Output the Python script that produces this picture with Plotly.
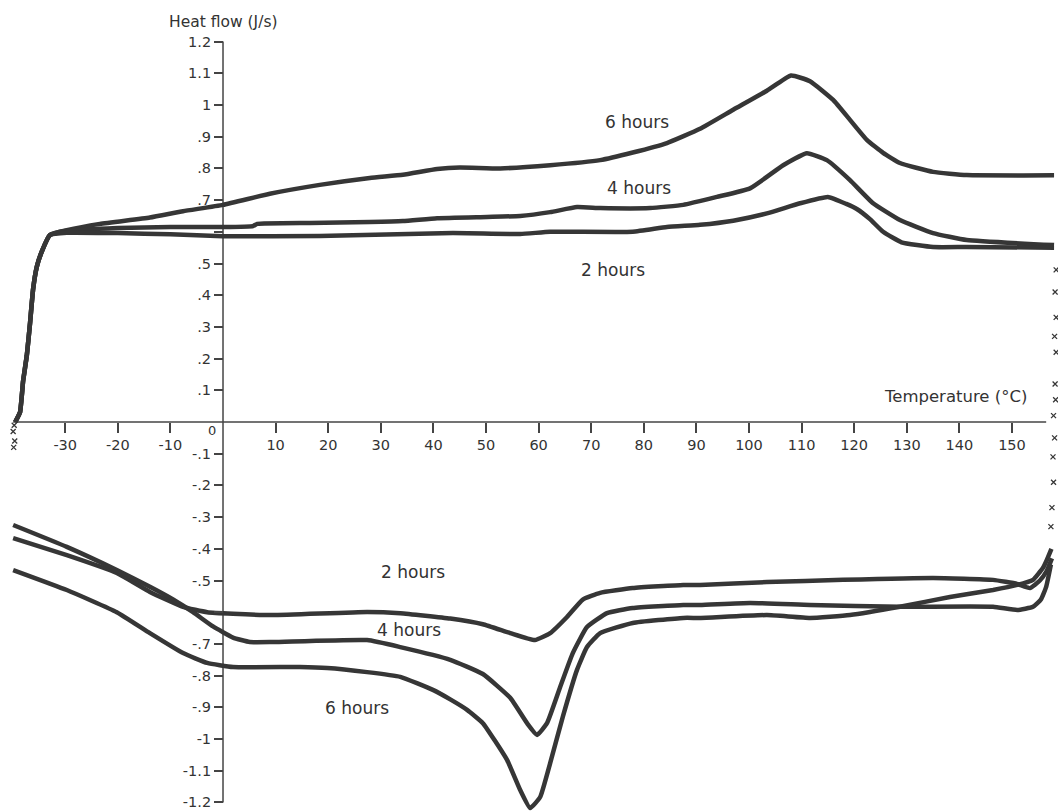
import plotly.graph_objects as go

# ---------------- data ----------------
# Heating scans (upper curves)
heat6_T = [-39.5, -38.6, -38.0, -37.3, -36.7, -36.1, -35.4, -34.4, -32.9, -29.7, -23.4, -13.9, -7.6, 0.0,
           8.9, 18.4, 27.9, 34.2, 40.7, 45.0, 52.7, 62.2, 71.7, 77.9, 84.4, 90.7, 97.0, 103.4, 108.0,
           111.6, 116.0, 119.2, 122.4, 125.5, 128.7, 135.0, 141.4, 158.0]
heat6_H = [0.0, 0.03, 0.13, 0.21, 0.31, 0.42, 0.49, 0.54, 0.59, 0.605, 0.625, 0.645, 0.665, 0.685,
           0.72, 0.748, 0.77, 0.78, 0.798, 0.803, 0.80, 0.81, 0.826, 0.85, 0.88, 0.925, 0.985, 1.045, 1.093,
           1.075, 1.016, 0.953, 0.89, 0.849, 0.817, 0.789, 0.779, 0.778]

heat4_T = [-39.5, -38.6, -38.0, -37.3, -36.7, -36.1, -35.4, -34.4, -32.9, -29.7, -20.0, -10.0, 0.0,
           5.7, 6.5, 16.5, 27.9, 34.2, 40.7, 50.2, 56.5, 62.2, 67.3, 71.7, 81.2, 87.5, 93.9, 100.2,
           106.5, 111.0, 114.8, 119.2, 123.6, 128.7, 135.0, 141.4, 158.0]
heat4_H = [0.0, 0.03, 0.13, 0.21, 0.31, 0.42, 0.49, 0.54, 0.59, 0.603, 0.612, 0.615, 0.615,
           0.618, 0.625, 0.628, 0.631, 0.634, 0.643, 0.647, 0.65, 0.662, 0.678, 0.675, 0.675, 0.685, 0.71, 0.737,
           0.81, 0.848, 0.826, 0.763, 0.69, 0.637, 0.596, 0.574, 0.558]

heat2_T = [-39.5, -38.6, -38.0, -37.3, -36.7, -36.1, -35.4, -34.4, -32.9, -29.7, -20.0, -10.0, 0.0,
           18.4, 43.7, 56.5, 62.2, 77.9, 84.4, 90.7, 97.0, 103.4, 109.7, 115.0, 118.5, 120.5, 123.0,
           125.5, 129.0, 135.0, 141.4, 158.0]
heat2_H = [0.0, 0.03, 0.13, 0.21, 0.31, 0.42, 0.49, 0.54, 0.59, 0.597, 0.596, 0.592, 0.586,
           0.587, 0.596, 0.593, 0.60, 0.60, 0.615, 0.622, 0.635, 0.658, 0.69, 0.71, 0.688, 0.672, 0.64,
           0.60, 0.567, 0.552, 0.552, 0.55]

# Cooling scans (lower curves), from high to low temperature
cool2_T = [157.6, 156.6, 155.3, 153.4, 151.0, 146.4, 135.0, 117.9, 103.4, 90.7, 87.5, 77.9, 71.7, 68.4,
           65.4, 62.2, 59.3, 54.6, 49.4, 43.2, 33.7, 27.4, 9.5, 1.9, -3.0, -7.6, -13.9, -20.2, -29.7, -39.9]
cool2_H = [-0.43, -0.47, -0.50, -0.524, -0.511, -0.498, -0.492, -0.498, -0.505, -0.514, -0.514, -0.524,
           -0.539, -0.56, -0.615, -0.666, -0.688, -0.666, -0.638, -0.62, -0.603, -0.599, -0.609, -0.605,
           -0.60, -0.583, -0.536, -0.476, -0.42, -0.366]

cool4_T = [157.4, 156.5, 155.5, 154.0, 151.0, 146.4, 128.7, 111.6, 100.2, 90.7, 87.5, 77.9, 73.0, 69.2,
           66.5, 64.1, 61.6, 59.7, 57.8, 54.6, 49.4, 43.2, 33.7, 27.4, 9.5, 5.1, 1.9, -1.9, -5.7, -9.5,
           -13.9, -20.2, -29.7, -39.9]
cool4_H = [-0.45, -0.52, -0.56, -0.583, -0.593, -0.583, -0.583, -0.577, -0.571, -0.577, -0.577, -0.587,
           -0.603, -0.647, -0.729, -0.836, -0.95, -0.987, -0.95, -0.87, -0.795, -0.75, -0.71, -0.688,
           -0.694, -0.694, -0.68, -0.645, -0.60, -0.56, -0.52, -0.467, -0.394, -0.325]

cool6_T = [157.5, 156.5, 155.9, 154.0, 151.0, 146.4, 138.2, 128.7, 119.2, 111.6, 103.4, 90.7, 87.5,
           77.9, 71.7, 69.2, 67.3, 64.6, 62.2, 60.3, 58.4, 56.5, 54.0, 49.4, 46.4, 43.2, 39.9, 33.7,
           27.4, 19.8, 14.6, 1.9, -3.0, -7.6, -13.9, -20.2, -29.7, -39.9]
cool6_H = [-0.40, -0.44, -0.46, -0.498, -0.514, -0.53, -0.552, -0.583, -0.609, -0.618, -0.609, -0.618,
           -0.618, -0.634, -0.666, -0.71, -0.782, -0.93, -1.076, -1.183, -1.218, -1.161, -1.066, -0.95,
           -0.908, -0.875, -0.845, -0.804, -0.789, -0.776, -0.773, -0.773, -0.76, -0.729, -0.666, -0.60,
           -0.53, -0.467]

# Sparse scattered points of the transitions (right: heating -> cooling, left: cooling -> heating)
trans_T = [158.4, 158.2, 158.4, 158.1, 158.4, 158.2, 158.3, 157.9, 158.1, 157.8, 157.9, 157.6,
           157.4, -39.7, -39.9, -39.6, -39.8]
trans_H = [0.48, 0.41, 0.33, 0.27, 0.22, 0.12, 0.07, 0.02, -0.05, -0.11, -0.19, -0.27, -0.33,
           -0.01, -0.03, -0.06, -0.08]

yticks_val = [1.2, 1.1, 1.0, 0.9, 0.8, 0.7, 0.6, 0.5, 0.4, 0.3, 0.2, 0.1,
              -0.1, -0.2, -0.3, -0.4, -0.5, -0.6, -0.7, -0.8, -0.9, -1.0, -1.1, -1.2]
yticks_txt = ["1.2", "1.1", "1", ".9", ".8", ".7", "", ".5", ".4", ".3", ".2", ".1",
              "-.1", "-.2", "-.3", "-.4", "-.5", "", "-.7", "-.8", "-.9", "-1", "-1.1", "-1.2"]
xticks_val = [-30, -20, -10, 10, 20, 30, 40, 50, 60, 70, 80, 90, 100, 110, 120, 130, 140, 150]
xticks_txt = [str(v) for v in xticks_val]

# curve labels: (text, T, H)
labels_txt = ["6 hours", "4 hours", "2 hours", "2 hours", "4 hours", "6 hours"]
labels_T = [78.7, 79.1, 74.2, 36.1, 35.4, 25.5]
labels_H = [0.946, 0.738, 0.48, -0.473, -0.656, -0.902]

# ---------------- figure ----------------
LINE = "#363636"
FONT = "DejaVu Sans, Verdana, sans-serif"

fig = go.Figure()
for T, H in [(heat6_T, heat6_H), (heat4_T, heat4_H), (heat2_T, heat2_H),
             (cool2_T, cool2_H), (cool4_T, cool4_H), (cool6_T, cool6_H)]:
    fig.add_trace(go.Scatter(x=T, y=H, mode="lines",
                             line=dict(color=LINE, width=4.5, shape="spline", smoothing=0.4),
                             hoverinfo="skip"))
fig.add_trace(go.Scatter(x=trans_T, y=trans_H, mode="markers",
                         marker=dict(symbol="x-thin-open", size=5, color=LINE,
                                     line=dict(width=1.3, color=LINE)),
                         hoverinfo="skip", cliponaxis=False))

x_range = [-42.4, 158.75]
y_range = [-1.2271, 1.3312]

fig.update_layout(
    width=1058, height=811,
    margin=dict(l=0, r=0, t=0, b=0),
    paper_bgcolor="white", plot_bgcolor="white",
    showlegend=False,
    font=dict(family=FONT, size=15, color="#333333"),
    xaxis=dict(range=x_range, domain=[0, 1], anchor="free",
               position=(0 - y_range[0]) / (y_range[1] - y_range[0]),
               showgrid=False, zeroline=False, showline=False,
               tickmode="array", tickvals=xticks_val, ticktext=xticks_txt,
               ticks="outside", ticklen=10, tickwidth=1.5, tickcolor="#444444",
               tickfont=dict(family=FONT, size=14.5, color="#333333")),
    yaxis=dict(range=y_range, domain=[0, 1], anchor="free",
               position=(0 - x_range[0]) / (x_range[1] - x_range[0]),
               showgrid=False, zeroline=False, showline=False,
               tickmode="array", tickvals=yticks_val, ticktext=yticks_txt,
               ticks="outside", ticklen=9, tickwidth=1.5, tickcolor="#444444",
               tickfont=dict(family=FONT, size=14.5, color="#333333")),
)

# axis lines crossing at the origin
fig.add_shape(type="line", xref="x", yref="y", x0=-39.9, x1=156.5, y0=0, y1=0,
              line=dict(color="#444444", width=1.5), layer="below")
fig.add_shape(type="line", xref="x", yref="y", x0=0, x1=0, y0=-1.2, y1=1.2,
              line=dict(color="#444444", width=1.5), layer="below")

for txt, T, H in zip(labels_txt, labels_T, labels_H):
    fig.add_annotation(x=T, y=H, xref="x", yref="y", text=txt, showarrow=False,
                       font=dict(family=FONT, size=17, color="#333333"))

fig.add_annotation(x=0, y=1.2, xref="x", yref="y", text="Heat flow (J/s)", showarrow=False,
                   yshift=20, font=dict(family=FONT, size=15.5, color="#333333"))
fig.add_annotation(x=139.2, y=0.079, xref="x", yref="y", text="Temperature (°C)", showarrow=False,
                   font=dict(family=FONT, size=16.5, color="#333333"))
fig.add_annotation(x=-2.0, y=-0.028, xref="x", yref="y", text="0", showarrow=False,
                   font=dict(family=FONT, size=13, color="#333333"))

fig.write_html("out.html")
